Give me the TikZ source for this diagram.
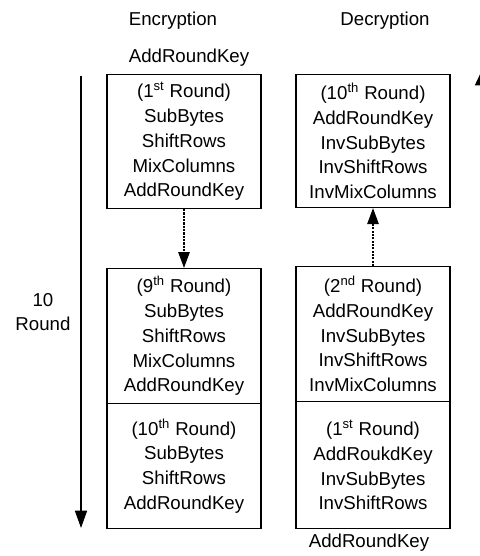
\documentclass[tikz,border=0pt]{standalone}
\usepackage{fontspec}
\setmainfont{Liberation Sans}
\usetikzlibrary{arrows.meta,positioning}

\begin{document}
\begin{tikzpicture}[x=0.75pt,y=-0.75pt,
	txt/.style={font=\fontsize{14}{18.6}\selectfont,align=center,inner sep=0pt},
	rbox/.style={txt,draw,line width=0.8pt,minimum width=115.5pt,anchor=north},
	longarrow/.style={line width=1.3pt,-{Triangle[length=13pt,width=9pt]}},
	dotarrow/.style={line width=1.3pt,dash pattern=on 1.6pt off 0.9pt,-{Triangle[length=12pt,width=8.5pt]}}]
	\useasboundingbox (0,0) rectangle (479,556);
	% headings
	\node[txt] (enc) at (173,21) {Encryption};
	\node[txt] (dec) at (385,21) {Decryption};
	\node[txt] (addtop) at (189,58) {AddRoundKey};
	% encryption boxes
	\node[rbox,minimum height=100.5pt] (e1) at (184,74) {(1\textsuperscript{st} Round)\\SubBytes\\ShiftRows\\MixColumns\\AddRoundKey};
	\node[rbox,minimum height=101.25pt] (e9) at (184,268) {(9\textsuperscript{th} Round)\\SubBytes\\ShiftRows\\MixColumns\\AddRoundKey};
	\node[rbox,minimum height=93.75pt] (e10) at (184,403) {(10\textsuperscript{th} Round)\\SubBytes\\ShiftRows\\AddRoundKey};
	% decryption boxes
	\node[rbox,minimum height=99.75pt] (d10) at (373,74) {(10\textsuperscript{th} Round)\\AddRoundKey\\InvSubBytes\\InvShiftRows\\InvMixColumns};
	\node[rbox,minimum height=101.25pt] (d2) at (373,266) {(2\textsuperscript{nd} Round)\\AddRoundKey\\InvSubBytes\\InvShiftRows\\InvMixColumns};
	\node[rbox,minimum height=95.25pt] (d1) at (373,401) {(1\textsuperscript{st} Round)\\AddRoukdKey\\InvSubBytes\\InvShiftRows};
	\node[txt] (addbot) at (369,543) {AddRoundKey};
	% rounds
	\node[txt] (rnd) at (43,312) {10\\Round};
	\coordinate (ltop) at (81,76);
	\coordinate (lbot) at (81,528);
	\draw[longarrow] (ltop) -- (lbot);
	\coordinate (rbot) at (483,300);
	\coordinate (rtop) at (483,68);
	\draw[longarrow,-{Triangle[length=13pt,width=12pt]}] (rbot) -- (rtop);
	\draw[dotarrow] (e1.south) -- (e9.north);
	\draw[dotarrow] (d2.north) -- (d10.south);
\end{tikzpicture}
\end{document}
